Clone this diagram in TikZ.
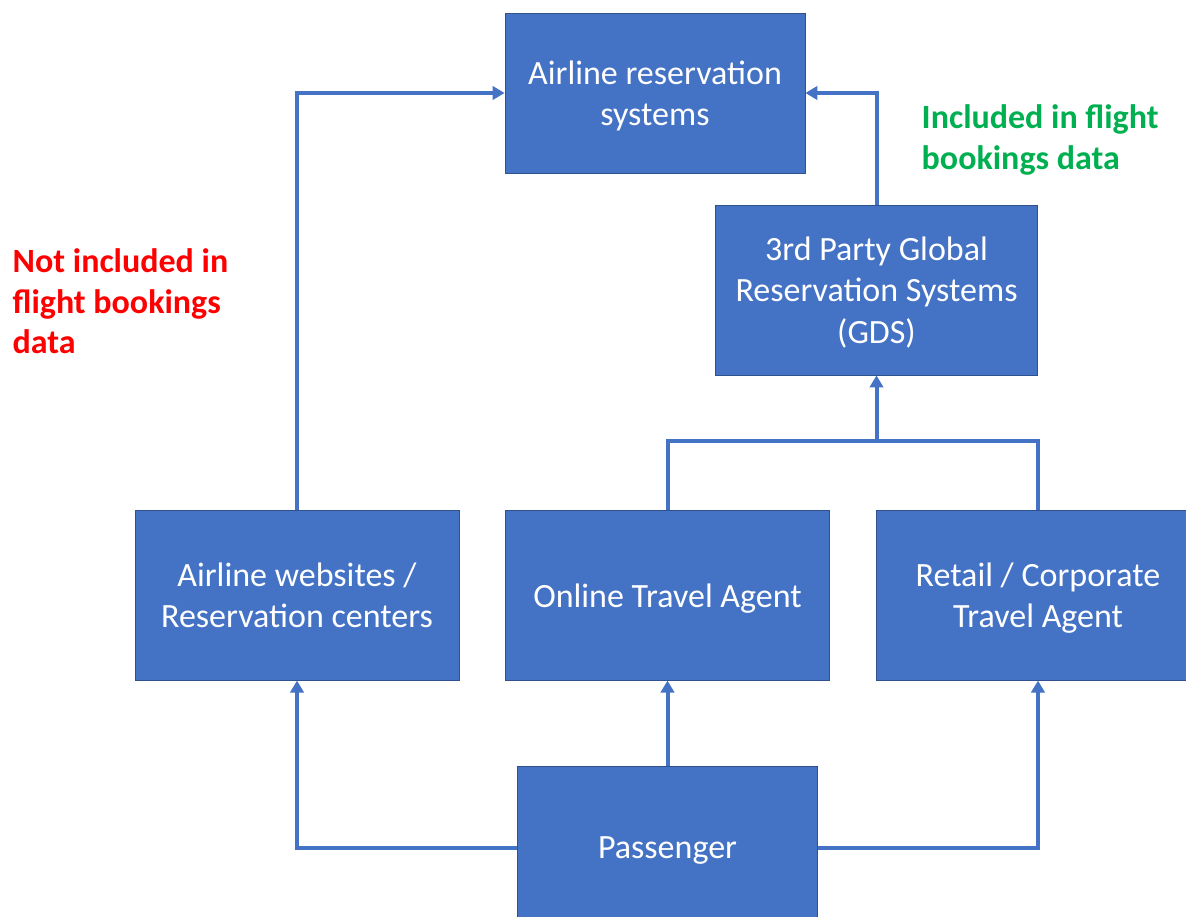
\documentclass[tikz,border=0pt]{standalone}
\usepackage{fontspec}
\setmainfont{Carlito}
\usetikzlibrary{arrows.meta}
\definecolor{boxblue}{HTML}{4472C4}
\definecolor{boxedge}{HTML}{2F528F}
\definecolor{notred}{HTML}{FF0000}
\definecolor{yesgreen}{HTML}{00B050}
\tikzset{
  sysbox/.style={fill=boxblue, draw=boxedge, line width=0.6pt, text=white, align=center,
    minimum width=#1, text depth=0pt, font=\fontsize{25.5}{31}\selectfont},
  sysbox/.default=243pt,
  flow/.style={draw=boxblue, line width=3pt, -{Triangle[length=9pt,width=10pt]}},
  link/.style={draw=boxblue, line width=3pt},
  note/.style={align=left, anchor=north west, font=\bfseries\fontsize{25.5}{30.5}\selectfont}
}
\begin{document}
\begin{tikzpicture}[x=0.75pt,y=-0.75pt]
			\useasboundingbox (0,0) rectangle (1186,917);
			\clip (0,0) rectangle (1186,917);
			% boxes
			\node[sysbox=225pt, minimum height=120pt] (ars) at (655,93) {Airline reservation\\systems};
			\node[sysbox=242pt, minimum height=127.5pt] (gds) at (876.5,290) {3rd Party Global\\Reservation Systems\\(GDS)};
			\node[sysbox, minimum height=127pt] (web) at (297,595.5) {Airline websites /\\Reservation centers};
			\node[sysbox, minimum height=127pt] (ota) at (667.5,595.5) {Online Travel Agent};
			\node[sysbox, minimum height=127pt] (tra) at (1038,595.5) {Retail / Corporate\\Travel Agent};
			\node[sysbox=225pt, minimum height=122pt] (pax) at (667.5,848) {Passenger};
			% joints
			\coordinate (join) at (876.5,441);
			% connectors
			\draw[flow] (web.north) |- (ars.west);
			\draw[flow] (gds.north) |- (ars.east);
			\draw[link] (ota.north) |- (join) -| (tra.north);
			\draw[flow] (join) -- (gds.south);
			\draw[flow] (pax.north) -- (ota.south);
			\draw[flow] (pax.west) -| (web.south);
			\draw[flow] (pax.east) -| (tra.south);
			% notes
			\node[note, text=notred] (out) at (8,244) {Not included in\\flight bookings\\data};
			\node[note, text=yesgreen] (in) at (917,100) {Included in flight\\bookings data};
		\end{tikzpicture}
\end{document}
